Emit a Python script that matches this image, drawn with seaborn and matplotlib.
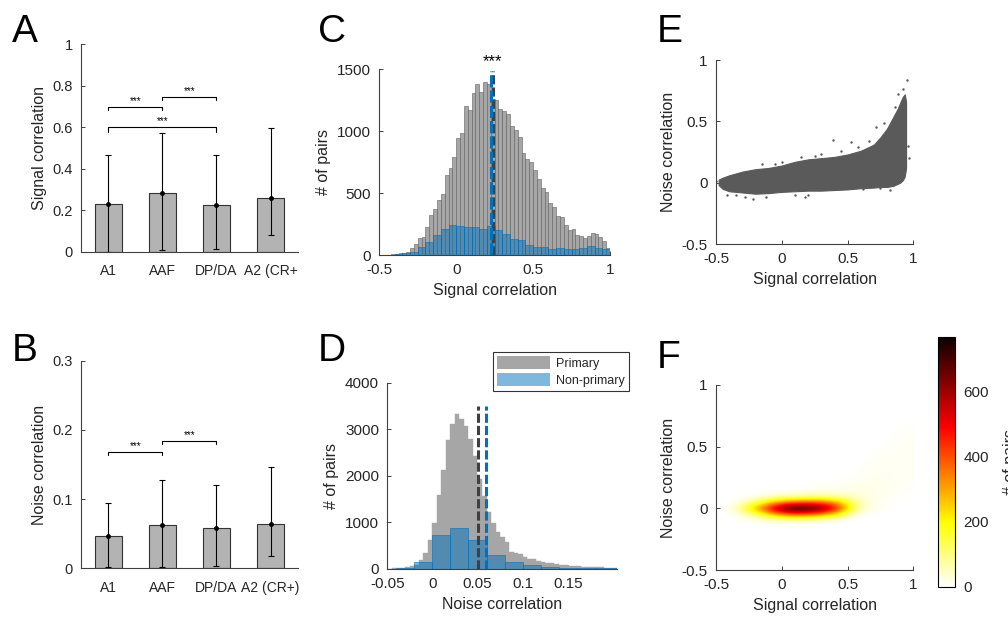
import numpy as np
import pandas as pd
import matplotlib
matplotlib.use('Agg')
import matplotlib.pyplot as plt
from matplotlib.patches import Patch
from matplotlib.ticker import FuncFormatter
import seaborn as sns

# ---------------- data ----------------
areas_A = ["A1", "AAF", "DP/DA", "A2 (CR+"]
areas_B = ["A1", "AAF", "DP/DA", "A2 (CR+)"]
signal_mean = [0.231, 0.283, 0.225, 0.258]
signal_low = [0.0, 0.006, 0.011, 0.079]
signal_high = [0.464, 0.570, 0.464, 0.597]
noise_mean = [0.0467, 0.0626, 0.0587, 0.0636]
noise_low = [0.0014, 0.0014, 0.003, 0.0183]
noise_high = [0.0939, 0.127, 0.1204, 0.1464]
# significance brackets: (left idx, right idx, bar height, tip height)
sig_pairs_A = [(0, 1, 0.698, 0.683), (1, 2, 0.746, 0.730), (0, 2, 0.602, 0.578)]
sig_pairs_B = [(0, 1, 0.1685, 0.1637), (1, 2, 0.184, 0.179)]

# C: signal-correlation histograms
sig_edges_primary = np.linspace(-0.5, 1.0, 61)
sig_counts_primary = [0, 0, 3, 8, 10, 15, 18, 27, 57, 92,
                      135, 148, 230, 325, 372, 442, 490, 650, 705, 790,
                      942, 982, 1200, 1175, 1305, 1378, 1314, 1400, 1378, 1260,
                      1250, 1180, 1165, 1140, 1040, 1010, 950, 820, 775, 755,
                      685, 615, 540, 505, 420, 385, 315, 305, 240, 205,
                      210, 165, 155, 135, 150, 180, 170, 145, 110, 60]
sig_edges_nonprimary = np.linspace(-0.5, 1.0, 31)
sig_counts_nonprimary = [0, 2, 10, 13, 22, 62, 108, 161, 210, 242,
                         237, 229, 223, 210, 237, 202, 172, 132, 118, 78,
                         62, 68, 45, 58, 52, 45, 58, 72, 58, 52]
sig_mean_primary = 0.238
sig_mean_nonprimary = 0.229

# D: noise-correlation histograms
noise_edges_primary = np.linspace(-0.05, 0.205, 52)
noise_counts_primary = [0, 5, 10, 25, 35, 50, 80, 180, 340, 610,
                        980, 1590, 2120, 2760, 3110, 3320, 3210, 3060, 2800, 2420,
                        1920, 1570, 1225, 990, 795, 688, 573, 358, 330, 308,
                        244, 215, 200, 165, 150, 129, 115, 100, 86, 79,
                        65, 57, 50, 43, 36, 36, 29, 29, 22, 22, 22]
noise_edges_nonprimary = np.linspace(-0.06, 0.22, 15)
noise_counts_nonprimary = [3, 12, 143, 724, 870, 617, 290, 140, 78, 45, 25, 14, 8, 5]
noise_mean_primary = 0.0505
noise_mean_nonprimary = 0.0595

# E: scatter cloud (dense envelope + isolated points)
e_sig = [-0.48, -0.45, -0.4, -0.3, -0.2, -0.1, 0.0, 0.1, 0.2, 0.3, 0.4, 0.5,
         0.6, 0.7, 0.75, 0.8, 0.85, 0.88, 0.9, 0.92, 0.935, 0.945]
e_low = [-0.02, -0.05, -0.07, -0.08, -0.09, -0.085, -0.075, -0.07, -0.065, -0.065, -0.06,
         -0.055, -0.045, -0.04, -0.035, -0.035, -0.025, -0.01, 0.0, 0.02, 0.05, 0.12]
e_high = [0.025, 0.04, 0.06, 0.09, 0.11, 0.12, 0.14, 0.17, 0.19, 0.2, 0.21,
          0.23, 0.26, 0.31, 0.37, 0.44, 0.54, 0.6, 0.65, 0.7, 0.72, 0.66]
e_pts_x = [-0.5, -0.42, -0.28, -0.22, -0.12, 0.18, 0.2, 0.39, 0.53, 0.45, 0.3, 0.15,
           0.0, -0.15, 0.82, 0.95, 0.96, 0.97, 0.62, 0.72, 0.88, 0.92, 0.75, -0.35, 0.1,
           -0.05, 0.25, 0.58, 0.66, 0.78, 0.86, 0.9]
e_pts_y = [0.01, -0.1, -0.12, -0.13, -0.12, -0.12, -0.1, 0.35, 0.33, 0.26, 0.23, 0.21,
           0.17, 0.15, -0.06, 0.84, 0.3, 0.2, -0.05, 0.45, 0.72, 0.76, -0.04, -0.1, -0.1,
           0.15, 0.22, 0.29, 0.34, 0.49, 0.62, 0.05]

# F: 2-D density of pairs (counts), rows = noise corr, cols = signal corr
f_sig_centers = [-0.45, -0.35, -0.25, -0.15, -0.05, 0.05, 0.15, 0.25, 0.35, 0.45, 0.55, 0.65, 0.75, 0.85, 0.95]
f_noise_centers = [-0.10, -0.05, 0.0, 0.05, 0.10, 0.15, 0.20, 0.25, 0.30, 0.35,
                   0.40, 0.45, 0.50, 0.55, 0.60, 0.65, 0.70, 0.75]
f_counts = [
    [0, 0, 5, 10, 15, 15, 15, 10, 5, 0, 0, 0, 0, 0, 0],
    [0, 10, 60, 150, 270, 340, 350, 320, 250, 140, 20, 0, 0, 0, 0],
    [0, 50, 200, 380, 590, 750, 770, 720, 600, 400, 110, 25, 8, 0, 0],
    [0, 15, 70, 170, 290, 370, 400, 410, 360, 250, 90, 25, 10, 5, 0],
    [0, 0, 5, 15, 30, 40, 50, 60, 60, 50, 35, 25, 15, 8, 3],
    [0, 0, 0, 0, 5, 5, 10, 15, 15, 15, 20, 20, 15, 10, 5],
    [0, 0, 0, 0, 0, 0, 0, 5, 5, 10, 15, 18, 18, 12, 8],
    [0, 0, 0, 0, 0, 0, 0, 0, 0, 5, 10, 12, 15, 12, 10],
    [0, 0, 0, 0, 0, 0, 0, 0, 0, 0, 5, 10, 12, 12, 10],
    [0, 0, 0, 0, 0, 0, 0, 0, 0, 0, 3, 8, 12, 12, 10],
    [0, 0, 0, 0, 0, 0, 0, 0, 0, 0, 0, 5, 10, 12, 10],
    [0, 0, 0, 0, 0, 0, 0, 0, 0, 0, 0, 3, 8, 12, 10],
    [0, 0, 0, 0, 0, 0, 0, 0, 0, 0, 0, 0, 5, 10, 10],
    [0, 0, 0, 0, 0, 0, 0, 0, 0, 0, 0, 0, 3, 8, 10],
    [0, 0, 0, 0, 0, 0, 0, 0, 0, 0, 0, 0, 0, 6, 8],
    [0, 0, 0, 0, 0, 0, 0, 0, 0, 0, 0, 0, 0, 4, 6],
    [0, 0, 0, 0, 0, 0, 0, 0, 0, 0, 0, 0, 0, 2, 4],
    [0, 0, 0, 0, 0, 0, 0, 0, 0, 0, 0, 0, 0, 0, 0],
]
f_vmax = 770

# ---------------- style ----------------
sns.set_style('ticks')
plt.rcParams['font.family'] = ['Liberation Sans', 'DejaVu Sans']
plt.rcParams['axes.unicode_minus'] = False
TXT = '#262626'
GRAY = '#a6a6a6'
BLUE = '#0072bd'
DOT = '#5a5a5a'

fig = plt.figure(figsize=(10.08, 6.21), dpi=100)
W, H = 1008.0, 621.0


def add_ax(x0, x1, ytop, ybot):
    return fig.add_axes([x0 / W, 1 - ybot / H, (x1 - x0) / W, (ybot - ytop) / H])


axA = add_ax(81, 297.7, 44, 251.7)
axB = add_ax(81, 297.7, 360.7, 568.3)
axC = add_ax(379.3, 610, 69.3, 255)
axD = add_ax(387.3, 617.3, 382.7, 568.7)
axE = add_ax(716, 913.3, 60, 244)
axF = add_ax(716, 913.3, 385, 570)
cax = add_ax(938.3, 955, 336.7, 586.7)

fmt = FuncFormatter(lambda v, p: '%g' % round(v, 6))


def style(ax, labelsize=11, xfmt=True):
    sns.despine(ax=ax)
    for s in ['left', 'bottom']:
        ax.spines[s].set_color('#404040')
        ax.spines[s].set_linewidth(0.8)
    ax.tick_params(direction='in', length=3, width=0.7, colors='#404040',
                   labelcolor=TXT, labelsize=labelsize, pad=6)
    ax.yaxis.set_major_formatter(fmt)
    if xfmt:
        ax.xaxis.set_major_formatter(fmt)


def bar_panel(ax, labels, means, low, high, ylim, yticks, ylabel, pairs):
    df = pd.DataFrame({'area': labels, 'value': means})
    sns.barplot(data=df, x='area', y='value', color='#b3b3b3', saturation=1,
                edgecolor='#333333', linewidth=0.8, width=0.5, errorbar=None, ax=ax)
    x = np.arange(len(labels))
    m = np.array(means)
    ax.errorbar(x, m, yerr=[m - np.array(low), np.array(high) - m], fmt='o', ms=2.5,
                color='k', ecolor='k', elinewidth=0.8, capsize=2, capthick=0.8)
    ax.set_xlim(-0.5, 3.5)
    ax.set_ylim(*ylim)
    ax.set_yticks(yticks)
    style(ax, 10.5, xfmt=False)
    ax.tick_params(axis='x', length=0, labelsize=10, pad=9)
    ax.set_xlabel('')
    ax.set_ylabel(ylabel, fontsize=11.5, color=TXT)
    span = ylim[1] - ylim[0]
    for a, b, yb, yt in pairs:
        ax.plot([a, a, b, b], [yt, yb, yb, yt], color='k', lw=0.8, clip_on=False)
        ax.text((a + b) / 2, yb + 0.004 * span, '***', ha='center', va='bottom',
                fontsize=7, color='k')


bar_panel(axA, areas_A, signal_mean, signal_low, signal_high, (0, 1),
          [0, 0.2, 0.4, 0.6, 0.8, 1], 'Signal correlation', sig_pairs_A)
bar_panel(axB, areas_B, noise_mean, noise_low, noise_high, (0, 0.3),
          [0, 0.1, 0.2, 0.3], 'Noise correlation', sig_pairs_B)


def hist(ax, edges, counts, **kw):
    e = np.asarray(edges, dtype=float)
    df = pd.DataFrame({'v': (e[:-1] + e[1:]) / 2, 'n': np.asarray(counts, dtype=float)})
    sns.histplot(data=df, x='v', weights='n', bins=list(e), ax=ax, **kw)


# ---- C ----
hist(axC, sig_edges_primary, sig_counts_primary, color=GRAY, alpha=1,
     edgecolor='#5f5f5f', linewidth=0.4)
hist(axC, sig_edges_nonprimary, sig_counts_nonprimary, color=BLUE, alpha=0.5,
     edgecolor=BLUE, linewidth=0.4)
axC.plot([sig_mean_primary] * 2, [0, 1490], color='#404040', lw=2.2, ls=(0, (3, 1)))
axC.plot([sig_mean_nonprimary] * 2, [0, 1490], color=BLUE, lw=2.2, ls=(0, (4, 1)))
axC.text(0.234, 1505, '***', ha='center', va='bottom', fontsize=12, color='k', clip_on=False)
axC.set_xlim(-0.5, 1)
axC.set_ylim(0, 1500)
axC.set_xticks([-0.5, 0, 0.5, 1])
axC.set_yticks([0, 500, 1000, 1500])
style(axC)
axC.set_xlabel('Signal correlation', fontsize=11.5, color=TXT)
axC.set_ylabel('# of pairs', fontsize=11.5, color=TXT)

# ---- D ----
hist(axD, noise_edges_primary, noise_counts_primary, color=GRAY, alpha=1,
     edgecolor=GRAY, linewidth=0.3)
hist(axD, noise_edges_nonprimary, noise_counts_nonprimary, color=BLUE, alpha=0.5,
     edgecolor=BLUE, linewidth=0.4)
axD.plot([noise_mean_primary] * 2, [0, 3500], color='#404040', lw=2.2, ls=(0, (3, 1)))
axD.plot([noise_mean_nonprimary] * 2, [0, 3500], color=BLUE, lw=2.2, ls=(0, (3, 1)))
axD.set_xlim(-0.05, 0.205)
axD.set_ylim(0, 4000)
axD.set_xticks([-0.05, 0, 0.05, 0.1, 0.15])
axD.set_yticks([0, 1000, 2000, 3000, 4000])
style(axD)
axD.set_xlabel('Noise correlation', fontsize=11.5, color=TXT)
axD.set_ylabel('# of pairs', fontsize=11.5, color=TXT)
handles = [Patch(facecolor=GRAY, edgecolor='none', label='Primary'),
           Patch(facecolor=BLUE, alpha=0.5, edgecolor='none', label='Non-primary')]
leg = axD.legend(handles=handles, loc='upper right', bbox_to_anchor=(629 / W, 1 - 351.7 / H),
                 bbox_transform=fig.transFigure, fontsize=9, frameon=True, fancybox=False,
                 edgecolor='k', handlelength=4.2, handleheight=1.2, borderaxespad=0,
                 borderpad=0.35, labelspacing=0.3, handletextpad=0.5)
leg.get_frame().set_linewidth(0.8)

# ---- E ----
axE.fill_between(e_sig, e_low, e_high, color=DOT, lw=0.8, edgecolor=DOT)
sns.scatterplot(x=e_pts_x, y=e_pts_y, s=3, color=DOT, linewidth=0, ax=axE)
axE.set_xlim(-0.5, 1)
axE.set_ylim(-0.5, 1)
axE.set_xticks([-0.5, 0, 0.5, 1])
axE.set_yticks([-0.5, 0, 0.5, 1])
style(axE)
axE.set_xlabel('Signal correlation', fontsize=11.5, color=TXT)
axE.set_ylabel('Noise correlation', fontsize=11.5, color=TXT)

# ---- F ----
dx = f_sig_centers[1] - f_sig_centers[0]
dy = f_noise_centers[1] - f_noise_centers[0]
ext = [f_sig_centers[0] - dx / 2, f_sig_centers[-1] + dx / 2,
       f_noise_centers[0] - dy / 2, f_noise_centers[-1] + dy / 2]
im = axF.imshow(np.array(f_counts, dtype=float), origin='lower', extent=ext, aspect='auto',
                cmap='hot_r', vmin=0, vmax=f_vmax, interpolation='bicubic')
axF.set_xlim(-0.5, 1)
axF.set_ylim(-0.5, 1)
axF.set_xticks([-0.5, 0, 0.5, 1])
axF.set_yticks([-0.5, 0, 0.5, 1])
style(axF)
axF.set_xlabel('Signal correlation', fontsize=11.5, color=TXT)
axF.set_ylabel('Noise correlation', fontsize=11.5, color=TXT)

cb = fig.colorbar(im, cax=cax, ticks=[0, 200, 400, 600])
cb.outline.set_edgecolor('k')
cb.outline.set_linewidth(0.8)
cax.tick_params(direction='in', length=3, width=0.7, colors='#404040', labelcolor=TXT,
                labelsize=11, pad=6)
cax.set_ylabel('# of pairs', fontsize=11.5, color=TXT, labelpad=10)

# panel letters
for lab, x, yb in [('A', 12, 42), ('B', 12, 361), ('C', 318, 42), ('D', 318, 361),
                   ('E', 657, 42), ('F', 657, 368)]:
    fig.text(x / W, 1 - yb / H, lab, fontsize=28, color='k', va='baseline', ha='left')

fig.savefig('out.png', dpi=100)
